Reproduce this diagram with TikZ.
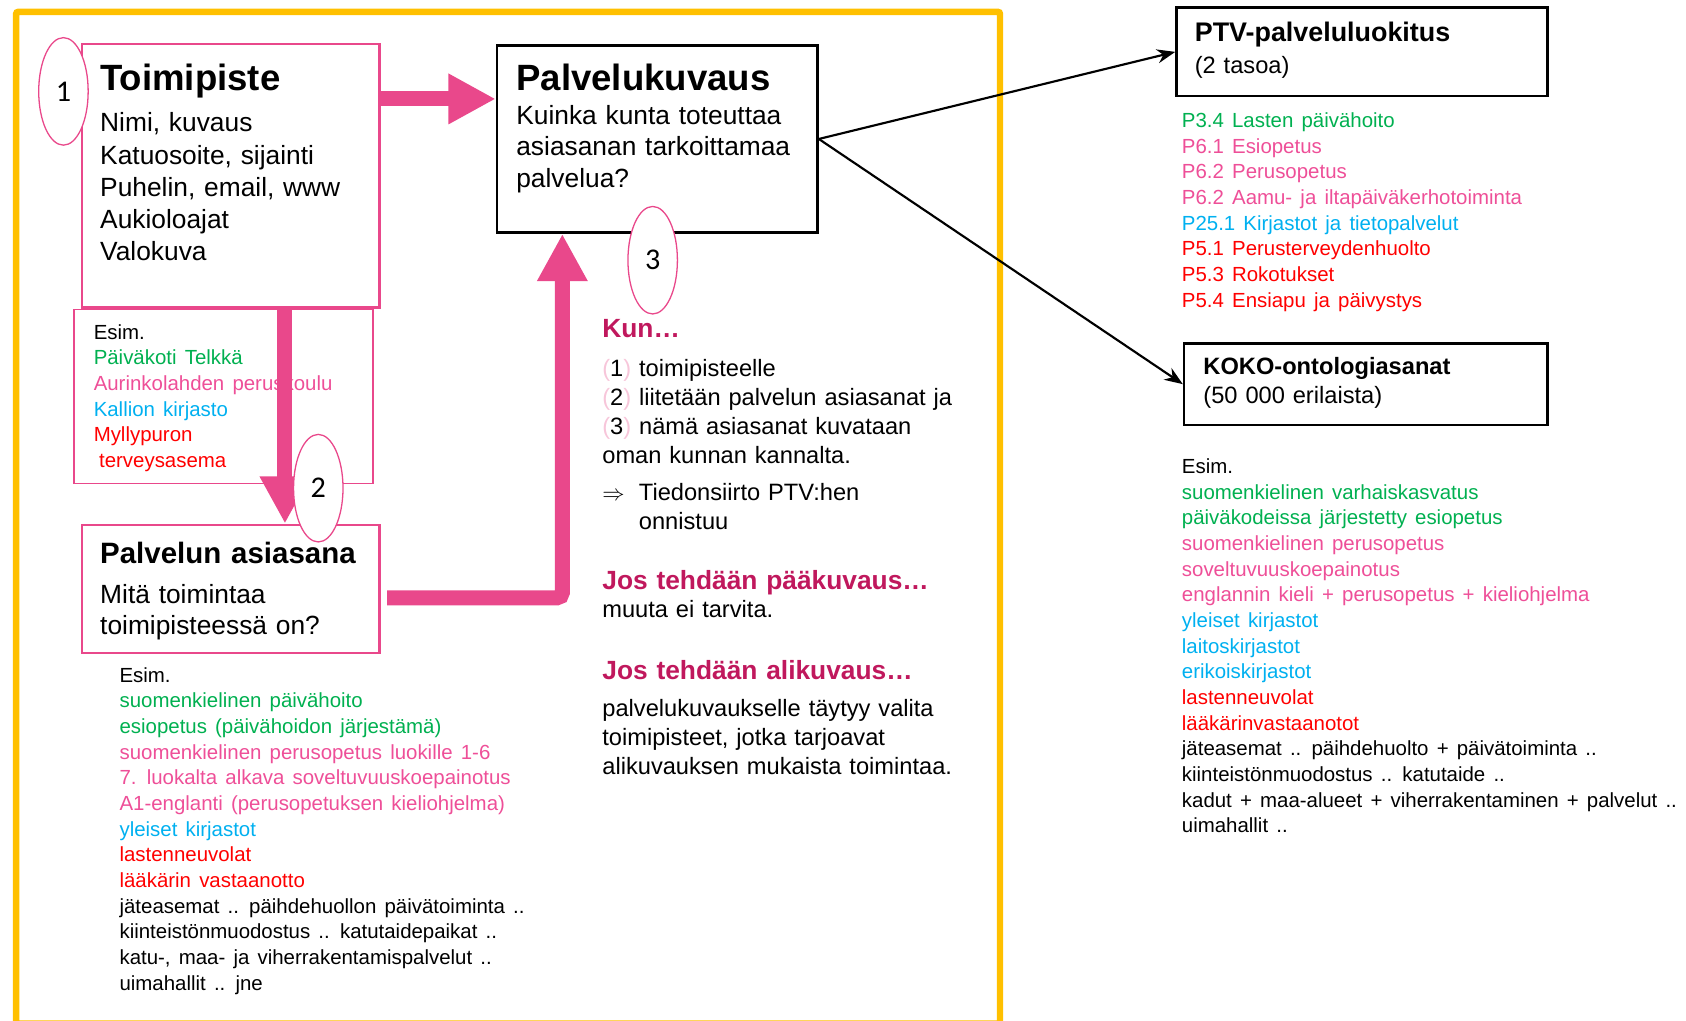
\documentclass[tikz,border=0pt]{standalone}
\usepackage{fontspec}
\setmainfont{Liberation Sans}
\newfontfamily\calib{Carlito}
\usetikzlibrary{arrows.meta,shapes.geometric,calc}
\definecolor{ppk}{HTML}{E9488B}
\definecolor{ptx}{HTML}{EE4F98}
\definecolor{grn}{HTML}{00B050}
\definecolor{blu}{HTML}{00B0F0}
\definecolor{rd}{HTML}{FF0000}
\definecolor{mag}{HTML}{C0185D}
\definecolor{lpk}{HTML}{F7C6DA}
\definecolor{yel}{HTML}{FFC000}
\newcommand\G[1]{\textcolor{grn}{#1}}
\newcommand\Pk[1]{\textcolor{ptx}{#1}}
\newcommand\B[1]{\textcolor{blu}{#1}}
\newcommand\R[1]{\textcolor{rd}{#1}}
\newcommand\LP[1]{\textcolor{lpk}{(}#1\textcolor{lpk}{)}}
\protected\def\widesp{\spaceskip=7.6pt\relax}
\begin{document}
\begin{tikzpicture}[x=1pt,y=-1pt,
  pinkbox/.style={draw=ppk,line width=2,minimum width=#1,anchor=north west,inner sep=0},
  blackbox/.style={draw=black,line width=2.5,anchor=north west,inner sep=0},
  numell/.style={ellipse,draw=ppk,line width=1.2,fill=white,minimum width=46,minimum height=100,inner sep=0,font=\calib\fontsize{28}{30}\selectfont},
  txt/.style={inner sep=0,anchor=base west,align=left,text width=620},
  fat/.style={draw=ppk,line width=14,-{Triangle[width=44pt,length=44pt]}},
  thin/.style={draw=black,line width=2,-{Stealth[length=17pt,width=13pt]}},
  big/.style={font=\fontsize{34}{40}\selectfont\bfseries},
  body/.style={font=\fontsize{24.5}{#1}\selectfont},
  small/.style={font=\fontsize{19}{23.86}\selectfont,execute at begin node=\widesp},
  mid/.style={font=\fontsize{22}{#1}\selectfont},
  head/.style={font=\fontsize{24.5}{28}\selectfont\bfseries\color{mag}}
]
\useasboundingbox (0,0) rectangle (1568,949);
% yellow frame
\node[draw=yel,line width=6,anchor=north west,minimum width=915,minimum height=941,inner sep=0,rounded corners=2] (frame) at (12,8) {};

% boxes
\node[pinkbox=277,minimum height=245] (toim) at (75,40) {};
\node[draw=ppk,line width=1.5,anchor=north west,inner sep=0,minimum width=278,minimum height=162] (esimbox) at (68,287) {};
\node[pinkbox=277,minimum height=119] (asi) at (75,487) {};
\node[blackbox,minimum width=298,minimum height=174] (palv) at (461,41) {};
\node[blackbox,minimum width=345,minimum height=82] (ptv) at (1093,6) {};
\node[blackbox,minimum width=338,minimum height=76] (koko) at (1100,318) {};

% Toimipiste texts
\node[txt,big] (toimT) at (93,84) {Toimipiste};
\node[txt,body=30] (toimL) at (93,122.6) {Nimi, kuvaus\\Katuosoite, sijainti\\Puhelin, email, www\\Aukioloajat\\Valokuva};

% Esim box text
\node[txt,small] (esim1) at (87,315.5) {Esim.\\\G{Päiväkoti Telkkä}\\\Pk{Aurinkolahden peruskoulu}\\\B{Kallion kirjasto}\\\R{Myllypuron}\\\R{\hspace*{5pt}terveysasema}};

% Palvelun asiasana
\node[txt,font=\fontsize{27.4}{32}\selectfont\bfseries] (asiT) at (93,524) {Palvelun asiasana};
\node[txt,body=29] (asiL) at (93,561.5) {Mitä toimintaa\\toimipisteessä on?};

% bottom-left list
\node[txt,small] (esim2) at (111,634.5) {Esim.\\
\G{suomenkielinen päivähoito}\\
\G{esiopetus (päivähoidon järjestämä)}\\
\Pk{suomenkielinen perusopetus luokille 1-6}\\
\Pk{7. luokalta alkava soveltuvuuskoepainotus}\\
\Pk{A1-englanti (perusopetuksen kieliohjelma)}\\
\B{yleiset kirjastot}\\
\R{lastenneuvolat}\\
\R{lääkärin vastaanotto}\\
jäteasemat .. päihdehuollon päivätoiminta ..\\
kiinteistönmuodostus .. katutaidepaikat ..\\
katu-, maa- ja viherrakentamispalvelut ..\\
uimahallit .. jne};

% Palvelukuvaus
\node[txt,big] (palvT) at (480,84) {Palvelukuvaus};
\node[txt,body=29] (palvL) at (480,116) {Kuinka kunta toteuttaa\\asiasanan tarkoittamaa\\palvelua?};

% Kun block
\node[txt,head] (kun) at (560,314) {Kun…};
\node[txt,mid=26.7] (kunL) at (560,350.5) {\LP{1} toimipisteelle\\\LP{2} liitetään palvelun asiasanat ja\\\LP{3} nämä asiasanat kuvataan\\oman kunnan kannalta.};
\node[txt,mid=27] (tied) at (560,465.5) {\makebox[34pt][l]{$\Rightarrow$}Tiedonsiirto PTV:hen\\\hspace*{34pt}onnistuu};
\node[txt,head] (jos1) at (560,548) {Jos tehdään pääkuvaus…};
\node[txt,mid=27] (jos1L) at (560,574.5) {muuta ei tarvita.};
\node[txt,head] (jos2) at (560,632) {Jos tehdään alikuvaus…};
\node[txt,mid=27] (jos2L) at (560,666.5) {palvelukuvaukselle täytyy valita\\toimipisteet, jotka tarjoavat\\alikuvauksen mukaista toimintaa.};

% PTV
\node[txt,font=\fontsize{25}{30}\selectfont\bfseries] (ptvT) at (1111,39) {PTV-palveluluokitus};
\node[txt,mid=27] (ptvS) at (1111,68) {(2 tasoa)};
\node[txt,small] (ptvL) at (1099,118.5) {\G{P3.4 Lasten päivähoito}\\
\Pk{P6.1 Esiopetus}\\
\Pk{P6.2 Perusopetus}\\
\Pk{P6.2 Aamu- ja iltapäiväkerhotoiminta}\\
\B{P25.1 Kirjastot ja tietopalvelut}\\
\R{P5.1 Perusterveydenhuolto}\\
\R{P5.3 Rokotukset}\\
\R{P5.4 Ensiapu ja päivystys}};

% KOKO
\node[txt,font=\fontsize{22}{27}\selectfont\bfseries] (kokoT) at (1119,348.5) {KOKO-ontologiasanat};
\node[txt,mid=27] (kokoS) at (1119,375.5) {(50 000 erilaista)};
\node[txt,small] (kokoL) at (1099,440.5) {Esim.\\
\G{suomenkielinen varhaiskasvatus}\\
\G{päiväkodeissa järjestetty esiopetus}\\
\Pk{suomenkielinen perusopetus}\\
\Pk{soveltuvuuskoepainotus}\\
\Pk{englannin kieli + perusopetus + kieliohjelma}\\
\B{yleiset kirjastot}\\
\B{laitoskirjastot}\\
\B{erikoiskirjastot}\\
\R{lastenneuvolat}\\
\R{lääkärinvastaanotot}\\
jäteasemat .. päihdehuolto + päivätoiminta ..\\
kiinteistönmuodostus .. katutaide ..\\
kadut + maa-alueet + viherrakentaminen + palvelut ..\\
uimahallit ..};

% fat pink arrows
\coordinate (ay) at (0,92);
\coordinate (dx) at (265,0);
\coordinate (ux) at (523,0);
\coordinate (us) at ($(asi.east)+(6,8.5)$);
\draw[fat] (toim.east |- ay) -- (palv.west |- ay);
\draw[fat] (toim.south -| dx) -- (asi.north -| dx);
\draw[fat,rounded corners=5] (us) -- (ux |- us) -- (ux |- palv.south);

% thin black arrows
\draw[thin] (palv.east) -- (ptv.west);
\draw[thin] (palv.east) -- (koko.west);

% numbered ellipses
\node[numell] (e1) at (59,85) {1};
\node[numell] (e2) at (296,454) {2};
\node[numell] (e3) at (607,242) {3};
\end{tikzpicture}
\end{document}
